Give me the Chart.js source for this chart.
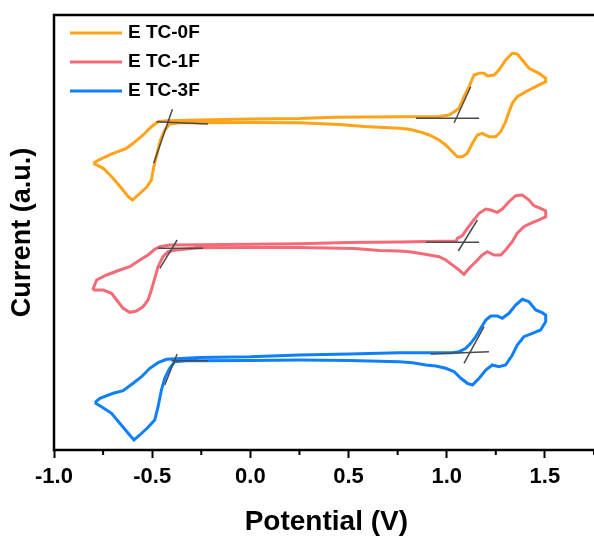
<!DOCTYPE html>
<html>
<head>
<meta charset="utf-8">
<script src="https://cdn.jsdelivr.net/npm/chart.js@4"></script>
<style>
  html, body { margin: 0; padding: 0; overflow: hidden; background: #fff; }
  #wrap { width: 600px; height: 540px; }
</style>
</head>
<body>
<div id="wrap"><canvas id="cvChart"></canvas></div>
<script>
// sample names and colours
const seriesNames = ['E TC-0F', 'E TC-1F', 'E TC-3F'];
const seriesColors = ['#FFA31A', '#F46B78', '#0F80FA'];

// potential (V) / current (a.u., offset), one closed loop per sample
const etc0fPotential = [-0.800,-0.766,-0.699,-0.631,-0.597,-0.546,-0.504,-0.470,-0.427,-0.258,0.000,0.250,0.428,0.758,0.961,1.012,1.038,1.063,1.088,1.114,1.139,1.165,1.190,1.207,1.241,1.266,1.300,1.334,1.359,1.385,1.419,1.470,1.504,1.504,1.453,1.402,1.359,1.334,1.317,1.300,1.275,1.249,1.215,1.181,1.156,1.131,1.105,1.080,1.054,1.029,0.995,0.961,0.911,0.860,0.809,0.758,0.682,0.580,0.453,0.250,0.000,-0.258,-0.360,-0.411,-0.436,-0.458,-0.475,-0.492,-0.504,-0.529,-0.572,-0.600,-0.622,-0.656,-0.699,-0.749,-0.800];
const etc0fCurrent = [28.67,29.07,29.67,30.17,30.67,31.5,32.33,32.83,32.93,33.0,33.1,33.15,33.27,33.33,33.35,33.5,33.83,34.17,35.33,36.33,37.5,37.67,37.67,37.4,37.5,38.0,39.0,39.67,39.6,39.0,38.17,37.67,37.17,36.83,36.33,35.83,35.33,34.67,33.83,32.83,31.83,31.33,31.33,31.67,31.5,30.67,29.67,29.33,29.33,29.83,30.5,31.0,31.5,31.83,32.07,32.17,32.25,32.35,32.55,32.72,32.75,32.72,32.73,32.6,32.0,31.0,29.67,28.33,27.0,26.27,25.5,25.0,25.33,26.17,27.17,28.17,28.67];

const etc1fPotential = [-0.803,-0.783,-0.732,-0.665,-0.614,-0.563,-0.521,-0.487,-0.461,-0.411,-0.258,0.000,0.250,0.504,0.758,1.048,1.054,1.080,1.105,1.131,1.165,1.199,1.224,1.258,1.283,1.317,1.351,1.385,1.419,1.444,1.478,1.504,1.504,1.470,1.427,1.393,1.359,1.334,1.300,1.275,1.241,1.207,1.181,1.148,1.114,1.088,1.063,1.029,0.995,0.961,0.911,0.860,0.809,0.758,0.657,0.530,0.250,0.000,-0.258,-0.377,-0.419,-0.445,-0.470,-0.487,-0.504,-0.521,-0.546,-0.580,-0.614,-0.648,-0.681,-0.707,-0.749,-0.803];
const etc1fCurrent = [16.0,17.0,17.5,18.0,18.33,19.0,19.5,20.07,20.33,20.5,20.53,20.57,20.62,20.75,20.8,20.9,21.17,21.43,22.17,22.83,23.67,24.1,24.0,23.77,24.1,24.83,25.43,25.5,25.0,24.43,24.17,23.9,23.33,23.0,22.67,22.33,21.67,20.83,20.0,19.5,19.5,19.83,19.5,18.83,18.17,17.57,18.0,18.5,19.0,19.33,19.5,19.67,19.83,19.9,19.95,20.15,20.25,20.25,20.22,20.0,19.83,19.33,18.33,17.17,16.0,15.0,14.33,13.9,13.77,14.17,15.0,15.67,16.0,16.0];

const etc3fPotential = [-0.792,-0.766,-0.699,-0.648,-0.597,-0.554,-0.512,-0.470,-0.427,-0.258,0.000,0.250,0.504,0.758,1.027,1.063,1.097,1.122,1.148,1.173,1.199,1.224,1.258,1.283,1.317,1.351,1.385,1.419,1.453,1.486,1.504,1.504,1.478,1.436,1.393,1.359,1.334,1.300,1.266,1.232,1.199,1.165,1.131,1.105,1.072,1.038,0.995,0.945,0.894,0.826,0.758,0.504,0.250,0.000,-0.258,-0.326,-0.385,-0.411,-0.436,-0.453,-0.470,-0.487,-0.521,-0.563,-0.593,-0.622,-0.665,-0.707,-0.758,-0.792];
const etc3fCurrent = [4.73,5.17,5.67,5.93,6.67,7.33,8.17,8.73,9.07,9.25,9.32,9.5,9.6,9.73,9.73,9.83,10.17,10.67,11.33,12.17,13.0,13.4,13.4,13.17,13.67,14.5,15.07,14.83,14.0,13.73,13.5,12.83,12.0,11.67,11.33,10.5,9.5,8.5,8.33,8.5,8.0,7.17,6.5,6.67,7.17,7.83,8.17,8.4,8.5,8.73,8.83,8.95,9.0,8.95,8.93,8.93,8.83,8.17,7.17,6.0,4.33,3.0,2.27,1.5,1.0,1.67,2.67,3.67,4.33,4.73];

// onset tangent lines (two end points each)
const tangentPotential = [
  [-0.478,-0.216], [-0.397,-0.492], [0.843,1.165], [1.038,1.122],
  [-0.470,-0.241], [-0.373,-0.461], [0.894,1.165], [1.059,1.156],
  [-0.402,-0.216], [-0.373,-0.436], [0.919,1.215], [1.088,1.190]
];
const tangentCurrent = [
  [32.83,32.6], [34.07,28.67], [33.17,33.17], [32.73,36.33],
  [20.17,20.17], [21.0,18.17], [20.77,20.77], [19.9,23.0],
  [8.93,8.93], [9.6,6.5], [9.6,9.83], [8.67,12.33]
];

const majorTicks = [-1.0, -0.5, 0.0, 0.5, 1.0, 1.5];

const FONT = 'Arial, "Liberation Sans", sans-serif';

function zip(xs, ys) {
  const n = Math.min(xs.length, ys.length);
  const out = [];
  for (let i = 0; i < n; i++) out.push({ x: xs[i], y: ys[i] });
  return out;
}
function isMajor(v) {
  return majorTicks.some(m => Math.abs(m - v) < 1e-6);
}

const curves = [
  [etc0fPotential, etc0fCurrent],
  [etc1fPotential, etc1fCurrent],
  [etc3fPotential, etc3fCurrent]
];

const datasets = curves.map((c, i) => ({
  label: seriesNames[i],
  data: zip(c[0], c[1]),
  borderColor: seriesColors[i],
  borderWidth: 3,
  showLine: true,
  pointRadius: 0,
  tension: 0,
  order: 2
}));
tangentPotential.forEach((xs, i) => {
  datasets.push({
    label: '',
    data: zip(xs, tangentCurrent[i]),
    borderColor: '#4a4a4a',
    borderWidth: 1.5,
    showLine: true,
    pointRadius: 0,
    order: 1
  });
});

const framePlugin = {
  id: 'frame',
  afterDraw(chart) {
    const { ctx, chartArea: a } = chart;
    const xs = chart.scales.x;
    ctx.save();
    ctx.strokeStyle = '#000';
    ctx.lineWidth = 2.5;
    ctx.strokeRect(a.left, a.top, a.right - a.left + 10, a.bottom - a.top);
    // minor ticks
    ctx.lineWidth = 2;
    xs.ticks.forEach(t => {
      if (!isMajor(t.value)) {
        const px = xs.getPixelForValue(t.value);
        ctx.beginPath();
        ctx.moveTo(px, a.bottom);
        ctx.lineTo(px, a.bottom + 5);
        ctx.stroke();
      }
    });
    // legend inside the frame
    ctx.font = 'bold 19px ' + FONT;
    ctx.textBaseline = 'middle';
    ctx.fillStyle = '#000';
    seriesNames.forEach((name, i) => {
      const y = 33 + i * 29;
      ctx.strokeStyle = seriesColors[i];
      ctx.lineWidth = 3;
      ctx.beginPath();
      ctx.moveTo(70, y);
      ctx.lineTo(122, y);
      ctx.stroke();
      ctx.fillText(name, 128, y);
    });
    ctx.restore();
  }
};

new Chart(document.getElementById('cvChart'), {
  type: 'scatter',
  data: { datasets },
  options: {
    responsive: true,
    maintainAspectRatio: false,
    animation: false,
    layout: { padding: { top: 15, left: 0, right: 0, bottom: 0 } },
    plugins: {
      legend: { display: false },
      tooltip: { enabled: false }
    },
    scales: {
      x: {
        type: 'linear',
        min: -1.0,
        max: 1.774,
        afterFit(scale) { scale.height = 90; },
        border: { display: false },
        grid: {
          drawOnChartArea: false,
          drawTicks: true,
          tickLength: 8,
          tickWidth: 2,
          tickColor: ctx => (ctx.tick && isMajor(ctx.tick.value)) ? '#000' : 'rgba(0,0,0,0)'
        },
        ticks: {
          stepSize: 0.25,
          includeBounds: false,
          autoSkip: false,
          maxRotation: 0,
          padding: 6,
          color: '#000',
          font: { family: FONT, size: 22, weight: 'bold' },
          callback: v => (isMajor(v) ? Number(v).toFixed(1) : '')
        },
        title: {
          display: true,
          text: 'Potential (V)',
          color: '#000',
          font: { family: FONT, size: 28, weight: 'bold' },
          padding: { top: 0, bottom: 1 }
        }
      },
      y: {
        type: 'linear',
        min: 0,
        max: 43.5,
        afterFit(scale) { scale.width = 54; },
        border: { display: false },
        grid: { display: false },
        ticks: { display: false },
        title: {
          display: true,
          text: 'Current (a.u.)',
          color: '#000',
          font: { family: FONT, size: 27, weight: 'bold' },
          padding: { top: 6, bottom: 0 }
        }
      }
    }
  },
  plugins: [framePlugin]
});
</script>
</body>
</html>
